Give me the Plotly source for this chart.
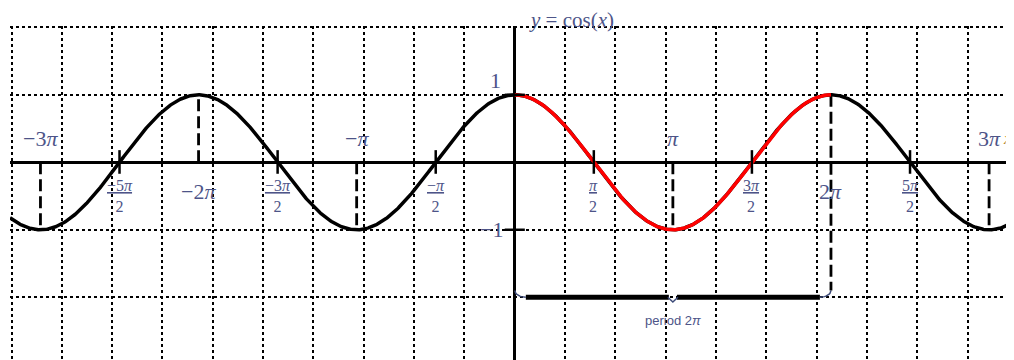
import numpy as np
import plotly.graph_objects as go

PI = np.pi

# ---- data -------------------------------------------------------------
x_domain = [-10.03, 9.92]         # visible x interval
y_domain = [-2.93, 2.02]          # visible y interval
period_span = [0.0, 2 * PI]       # one highlighted period
brace_level = -2.0                # y-level of the period brace

# vertical dashed guides at multiples of pi: (multiple, y from, y to)
guide_mult = [-3, -2, -1, 1, 2, 3]
guide_from = [0, 0, 0, 0, 1, 0]
guide_to = [-1, 1, -1, -1, -1.9, -1]

# zero crossings (odd multiples of pi/2)
zero_halves = [-5, -3, -1, 1, 3, 5]
zero_labels = ["−5<i>π</i>", "−3<i>π</i>", "−<i>π</i>", "<i>π</i>", "3<i>π</i>", "5<i>π</i>"]

# labels above axis at multiples of pi
upper_mult = [-3, -1, 1, 3]
upper_labels = ["−3<i>π</i>", "−<i>π</i>", "<i>π</i>", "3<i>π</i>"]

# labels below axis at even multiples
lower_mult = [-2, 2]
lower_labels = ["−2<i>π</i>", "2<i>π</i>"]

y_ticks = [1, -1]
y_tick_labels = ["1", "−1"]

# ---- curves -------------------------------------------------------------
x_all = np.linspace(x_domain[0], x_domain[1], 1500)
y_all = np.cos(x_all)
x_per = np.linspace(period_span[0], period_span[1], 500)
y_per = np.cos(x_per)

LABEL = "#4d5488"
SERIF = "Liberation Serif, DejaVu Serif, serif"

fig = go.Figure()

# dashed guides
gx, gy = [], []
for m, a, b in zip(guide_mult, guide_from, guide_to):
    gx += [m * PI, m * PI, None]
    gy += [a, b, None]
fig.add_trace(go.Scatter(x=gx, y=gy, mode="lines",
                         line=dict(color="black", width=2.8, dash="12px,5px"),
                         hoverinfo="skip", showlegend=False))

# curves
fig.add_trace(go.Scatter(x=x_all, y=y_all, mode="lines",
                         line=dict(color="black", width=3.5),
                         hoverinfo="skip", showlegend=False))
fig.add_trace(go.Scatter(x=x_per, y=y_per, mode="lines",
                         line=dict(color="red", width=3.5),
                         hoverinfo="skip", showlegend=False))

# tick marks at zero crossings
tx, ty = [], []
for h in zero_halves:
    tx += [h * PI / 2, h * PI / 2, None]
    ty += [0.18, -0.17, None]
for v in y_ticks:
    tx += [-0.2, 0.2, None]
    ty += [v, v, None]
fig.add_trace(go.Scatter(x=tx, y=ty, mode="lines",
                         line=dict(color="black", width=2.5),
                         hoverinfo="skip", showlegend=False))

# period brace
p0, p1 = period_span
mid = (p0 + p1) / 2
bx = [p0 + 0.22, mid - 0.08, None, mid + 0.08, p1 - 0.22]
by = [brace_level, brace_level, None, brace_level, brace_level]
fig.add_trace(go.Scatter(x=bx, y=by, mode="lines",
                         line=dict(color="black", width=5),
                         hoverinfo="skip", showlegend=False))
t = np.linspace(0, PI / 2, 12)
ex = list(p0 + 0.22 * (1 - np.cos(t))) + [None] + list(p1 - 0.22 * (1 - np.cos(t))) \
    + [None, mid - 0.1, mid, mid + 0.1]
ey = list(brace_level + 0.1 * (1 - np.sin(t))) + [None] + list(brace_level + 0.1 * (1 - np.sin(t))) \
    + [None, brace_level, brace_level - 0.07, brace_level]
fig.add_trace(go.Scatter(x=ex, y=ey, mode="lines",
                         line=dict(color="#3c4a78", width=1.5),
                         hoverinfo="skip", showlegend=False))

ann = []
for m, s in zip(upper_mult, upper_labels):
    ann.append(dict(x=m * PI, y=0.35, text=s, showarrow=False,
                    font=dict(family=SERIF, size=22, color=LABEL)))
for m, s in zip(lower_mult, lower_labels):
    ann.append(dict(x=m * PI, y=-0.43, text=s, showarrow=False,
                    font=dict(family=SERIF, size=22, color=LABEL)))
for h, s in zip(zero_halves, zero_labels):
    ann.append(dict(x=h * PI / 2, y=-0.5, text=f"<u>{s}</u><br>2", showarrow=False,
                    font=dict(family=SERIF, size=16, color=LABEL)))
ann.append(dict(x=-0.38, y=1.21, text=y_tick_labels[0], showarrow=False,
                font=dict(family=SERIF, size=22, color=LABEL)))
ann.append(dict(x=-0.2, y=-1.0, text=y_tick_labels[1], showarrow=False, xanchor="right",
                font=dict(family=SERIF, size=22, color=LABEL)))
ann.append(dict(x=1.13, xref="x", y=1.018, yref="paper", yanchor="middle",
                text="<i>y</i> = cos(<i>x</i>)", showarrow=False,
                font=dict(family=SERIF, size=21, color=LABEL)))
ann.append(dict(x=mid, y=-2.34, text="period 2<i>π</i>", showarrow=False,
                font=dict(family="Liberation Sans Narrow, Liberation Sans, sans-serif",
                          size=13, color=LABEL)))
ann.append(dict(x=1.0, xref="paper", xanchor="right", y=0.35, text="<i>x</i>",
                showarrow=False,
                font=dict(family=SERIF, size=17, color="#b8862a")))

fig.update_layout(
    width=1006, height=352,
    margin=dict(l=2, r=0, t=18, b=0),
    paper_bgcolor="white", plot_bgcolor="white",
    showlegend=False,
    annotations=ann,
    xaxis=dict(range=x_domain, dtick=1, tick0=0, showticklabels=False, ticks="",
               showgrid=True, gridcolor="black", gridwidth=2, griddash="dot",
               zeroline=True, zerolinecolor="black", zerolinewidth=3, showline=False),
    yaxis=dict(range=y_domain, dtick=1, tick0=0, showticklabels=False, ticks="",
               showgrid=True, gridcolor="black", gridwidth=2, griddash="dot",
               zeroline=True, zerolinecolor="black", zerolinewidth=3, showline=False),
)

fig.write_html("out.html")
